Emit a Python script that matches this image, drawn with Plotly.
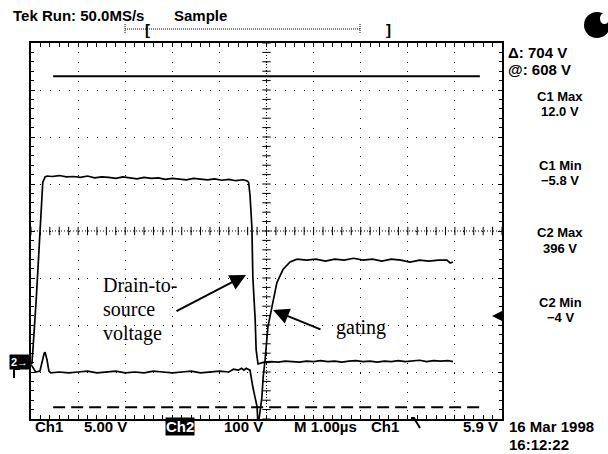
import numpy as np
import plotly.graph_objects as go

# ---------------- data ----------------
# Ch2: drain-to-source voltage (V) vs time (µs)
drain_t = [0.00, 0.02, 0.04, 0.08, 0.11, 0.14, 0.17, 0.21, 0.25, 0.30, 0.34,
           0.45, 0.60, 0.75, 0.90, 1.05, 1.20, 1.35, 1.50, 1.65, 1.80, 1.95,
           2.10, 2.25, 2.40, 2.55, 2.70, 2.85, 3.00, 3.15, 3.30, 3.45, 3.60,
           3.75, 3.90, 4.05, 4.20, 4.35, 4.50, 4.58, 4.62, 4.65, 4.69, 4.71,
           4.76, 4.78, 4.82, 4.88, 4.95, 5.10, 5.25, 5.40, 5.55, 5.70, 5.85,
           6.00, 6.15, 6.30, 6.45, 6.60, 6.75, 6.90, 7.05, 7.20, 7.35, 7.50,
           7.65, 7.80, 7.95, 8.10, 8.25, 8.40, 8.55, 8.70, 8.85, 8.96]
drain_v = [-2, -2, 25, 80, 132, 185, 238, 323, 383, 394, 396,
           395, 397, 394, 395, 393, 396, 392, 394, 393, 391, 394,
           392, 390, 393, 391, 392, 389, 391, 390, 388, 391, 389,
           388, 390, 387, 389, 386, 388, 386, 383, 355, 287, 181,
           89, 26, -4, -2, 0, 1, 0, 2, 1, 0, 2,
           1, 3, 1, 2, 0, 2, 3, 1, 2, 0, 2,
           1, 3, 1, 2, 4, 1, 3, 2, 3, 1]

# Ch1: gating voltage (V) vs time (µs)
gate_t = [0.00, 0.04, 0.10, 0.19, 0.23, 0.28, 0.30, 0.34, 0.38, 0.42,
          0.60, 0.80, 1.00, 1.20, 1.40, 1.60, 1.80, 2.00, 2.20, 2.40,
          2.60, 2.80, 3.00, 3.20, 3.40, 3.60, 3.80, 4.00, 4.20, 4.30,
          4.40, 4.47, 4.52, 4.57, 4.61, 4.65, 4.71, 4.76, 4.80, 4.82,
          4.86, 4.90, 4.93, 4.97, 5.03, 5.12, 5.22, 5.35, 5.50, 5.65,
          5.85, 6.05, 6.25, 6.45, 6.65, 6.85, 7.05, 7.25, 7.45, 7.65,
          7.85, 8.05, 8.25, 8.45, 8.65, 8.83, 8.90, 8.96]
gate_v = [0.8, 0.5, 0.0, 0.1, 1.1, 2.0, 2.1, 1.3, 0.1, -0.1,
          0.0, -0.1, 0.0, 0.1, -0.1, 0.0, 0.1, -0.1, 0.0, -0.1,
          0.1, 0.0, -0.1, 0.0, 0.1, -0.1, 0.0, 0.1, 0.0, 0.3,
          0.2, 0.4, 0.2, 0.4, 0.3, 0.2, -1.6, -2.7, -3.7, -5.8,
          -4.3, -2.8, -0.5, 1.3, 4.8, 6.9, 9.5, 10.9, 11.7, 12.0,
          11.9, 12.0, 11.8, 12.0, 11.9, 12.1, 11.9, 12.0, 11.8, 12.0,
          11.9, 11.7, 11.9, 11.8, 11.9, 11.9, 11.6, 11.7]

# horizontal bar cursors on Ch2 (V)
cursor_at = 608
cursor_delta = 704
cursor_t = [0.47, 9.53]

# readout texts
top_left_text = "Tek Run: 50.0MS/s"
mode_text = "Sample"
delta_text = "\u0394: 704 V"
at_text = "@: 608 V"
meas_labels = [("C1 Max", "12.0 V"), ("C1 Min", "\u22125.8 V"),
               ("C2 Max", "396 V"), ("C2 Min", "\u22124 V")]
bottom_labels = ["Ch1", "5.00 V", "Ch2", "100 V", "M 1.00\u00b5s", "Ch1", "5.9 V"]
date_text = "16 Mar 1998"
time_text = "16:12:22"

# ---------------- geometry helpers ----------------
W_FIG, H_FIG = 608, 454
L, R, T, B = 31, 502, 43, 419
PW, PH = R - L, B - T


def px(x):
    return (x - L) / PW


def py(y):
    return (B - y) / PH


BLACK = "black"
TEK = dict(family="Liberation Sans, Arial, sans-serif", size=15, color=BLACK)
SERIF = dict(family="Liberation Serif, Times New Roman, serif", size=20, color=BLACK)

fig = go.Figure()

# center graticule ticks
fig.add_trace(go.Scatter(x=np.arange(0, 10.01, 0.2), y=np.zeros(51), mode="markers",
                         marker=dict(symbol="line-ns", size=6, line=dict(color=BLACK, width=1)),
                         hoverinfo="skip", showlegend=False))
fig.add_trace(go.Scatter(x=np.full(41, 5.0), y=np.arange(-4, 4.01, 0.2), mode="markers",
                         marker=dict(symbol="line-ew", size=6, line=dict(color=BLACK, width=1)),
                         hoverinfo="skip", showlegend=False))

# waveforms
fig.add_trace(go.Scatter(x=drain_t, y=drain_v, yaxis="y2", mode="lines",
                         line=dict(color=BLACK, width=1.7), showlegend=False))
fig.add_trace(go.Scatter(x=gate_t, y=gate_v, yaxis="y3", mode="lines",
                         line=dict(color=BLACK, width=1.7), showlegend=False))

# cursors
fig.add_trace(go.Scatter(x=cursor_t, y=[cursor_at, cursor_at], yaxis="y2", mode="lines",
                         line=dict(color=BLACK, width=2), showlegend=False))
fig.add_trace(go.Scatter(x=cursor_t, y=[cursor_at - cursor_delta] * 2, yaxis="y2", mode="lines",
                         line=dict(color=BLACK, width=2, dash="12px,6px"), showlegend=False))

axis_common = dict(showgrid=True, gridcolor=BLACK, gridwidth=1, showline=True,
                   linecolor=BLACK, linewidth=1.5, mirror="allticks", ticks="inside",
                   ticklen=4, tickcolor=BLACK, tickwidth=1, showticklabels=False,
                   zeroline=False, fixedrange=True)

fig.update_layout(
    width=W_FIG, height=H_FIG, autosize=False,
    margin=dict(l=L, r=W_FIG - R, t=T, b=H_FIG - B, pad=0),
    paper_bgcolor="white", plot_bgcolor="white",
    xaxis=dict(range=[0, 10], dtick=1, tick0=0, griddash="1px,8.42px",
               minor=dict(dtick=0.2, ticks="inside", ticklen=3, tickcolor=BLACK, showgrid=False),
               **axis_common),
    yaxis=dict(range=[-4, 4], dtick=1, tick0=0, griddash="1px,8.4px",
               minor=dict(dtick=0.2, ticks="inside", ticklen=3, tickcolor=BLACK, showgrid=False),
               **axis_common),
    yaxis2=dict(range=[-121, 679], overlaying="y", visible=False, fixedrange=True),
    yaxis3=dict(range=[-5, 35], overlaying="y", visible=False, fixedrange=True),
    showlegend=False,
)

shapes = []
# dense dotted centre lines
shapes.append(dict(type="line", xref="x", yref="y", x0=0, x1=10, y0=0, y1=0,
                   line=dict(color=BLACK, width=1, dash="1px,2px")))
shapes.append(dict(type="line", xref="x", yref="y", x0=5, x1=5, y0=-4, y1=4,
                   line=dict(color=BLACK, width=1, dash="1px,2px")))
# record bracket at top
shapes.append(dict(type="line", xref="paper", yref="paper", x0=px(125), x1=px(360), y0=py(29), y1=py(29),
                   line=dict(color=BLACK, width=1, dash="1px,1px")))
for xx in (125, 360):
    shapes.append(dict(type="line", xref="paper", yref="paper", x0=px(xx), x1=px(xx), y0=py(24), y1=py(34),
                       line=dict(color=BLACK, width=1, dash="1px,1px")))
# black round badge top right
shapes.append(dict(type="circle", xref="paper", yref="paper", x0=px(584), x1=px(610), y0=py(12), y1=py(38),
                   fillcolor=BLACK, line=dict(color=BLACK, width=0)))
shapes.append(dict(type="circle", xref="paper", yref="paper", x0=px(600), x1=px(609), y0=py(13), y1=py(24),
                   fillcolor="white", line=dict(color="white", width=0)))
# trigger slope symbol
shapes.append(dict(type="path", xref="paper", yref="paper",
                   path=f"M {px(411)} {py(418)} L {px(414)} {py(418)} L {px(420)} {py(428)}",
                   line=dict(color=BLACK, width=2)))
# Ch1 ground marker under the Ch2 marker
shapes.append(dict(type="path", xref="paper", yref="paper",
                   path=f"M {px(14)} {py(378)} L {px(14)} {py(369)} L {px(20)} {py(369)}",
                   line=dict(color=BLACK, width=2)))
fig.update_layout(shapes=shapes)

ann = []


def txt(s, x, y, font=TEK, xanchor="left", bold=True, **kw):
    ann.append(dict(text=f"<b>{s}</b>" if bold else s, x=px(x), y=py(y), xref="paper", yref="paper",
                    xanchor=xanchor, yanchor="middle", showarrow=False, font=font, **kw))


txt(top_left_text, 11, 16)
txt(mode_text, 172, 16)
txt("[", 143, 29)
txt("]", 384, 29)
txt(delta_text, 506, 53)
txt(at_text, 506, 69)
MEAS = dict(TEK, size=13)
meas_y = [(96, 111), (165, 180), (233, 248), (302, 317)]
for (a, b), (ya, yb) in zip(meas_labels, meas_y):
    txt(a, 560, ya, font=MEAS, xanchor="center")
    txt(b, 560, yb, font=MEAS, xanchor="center")

bottom_x = [33, 82, 165, 222, 292, 369, 461]
for s, xx in zip(bottom_labels, bottom_x):
    if s == "Ch2" and xx == 165:
        txt(s, xx, 427, font=dict(TEK, color="white"), bgcolor=BLACK, borderpad=0)
    else:
        txt(s, xx, 427)
txt(date_text, 507, 427, font=dict(TEK, size=15))
txt(time_text, 507, 444, font=dict(TEK, size=15))

# Ch2 ground marker
txt("2\u2192", 9, 362, font=dict(TEK, size=11, color="white"), bgcolor=BLACK, borderpad=1)

# serif annotation texts
txt("Drain-to-", 101, 285, font=SERIF, bold=False)
txt("source", 101, 309, font=SERIF, bold=False)
txt("voltage", 101, 333, font=SERIF, bold=False)
txt("gating", 334, 327, font=SERIF, bold=False)

# arrows
ann.append(dict(x=px(246), y=py(275), xref="paper", yref="paper", ax=175 - 246, ay=312 - 275,
                text="", showarrow=True, arrowhead=2, arrowsize=1.6, arrowwidth=2, arrowcolor=BLACK))
ann.append(dict(x=px(273), y=py(310), xref="paper", yref="paper", ax=322 - 273, ay=330 - 310,
                text="", showarrow=True, arrowhead=2, arrowsize=1.6, arrowwidth=2, arrowcolor=BLACK))
# trigger level marker
ann.append(dict(x=px(492), y=py(316), xref="paper", yref="paper", ax=12, ay=0,
                text="", showarrow=True, arrowhead=2, arrowsize=1.2, arrowwidth=2, arrowcolor=BLACK))

fig.update_layout(annotations=ann)

fig.write_html("out.html")
